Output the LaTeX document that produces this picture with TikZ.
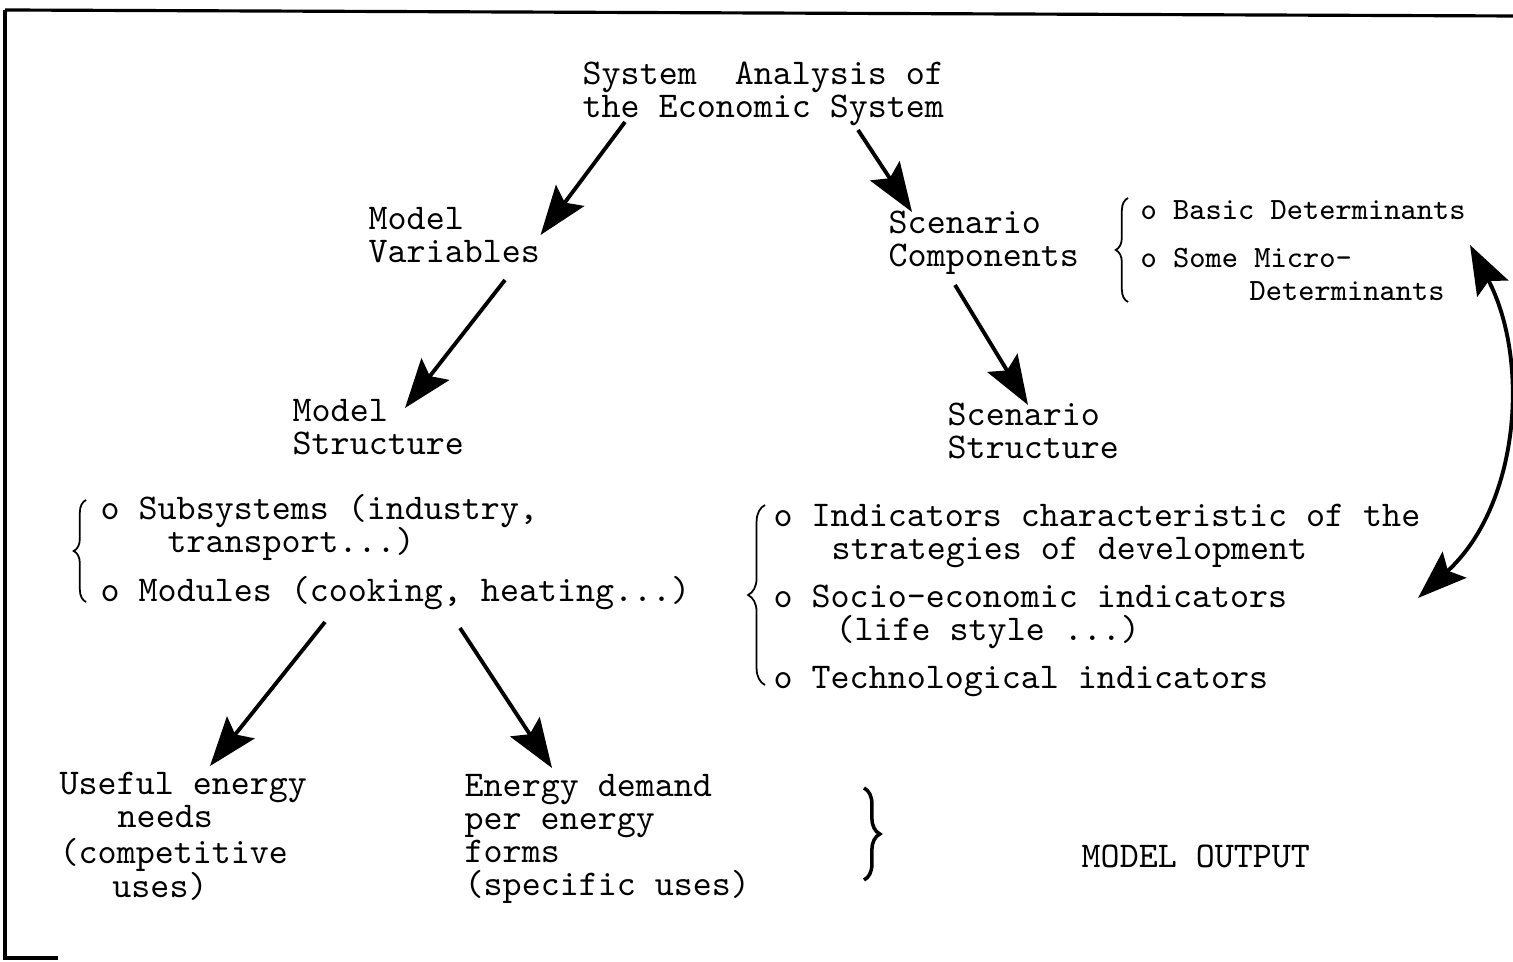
\documentclass[tikz,border=0pt]{standalone}
\usepackage{fontspec}
\usetikzlibrary{arrows.meta,decorations.pathreplacing,calc}
\newcommand\tightlines{\lineskiplimit-9pt\relax}

\begin{document}
\begin{tikzpicture}[x=0.01cm,y=-0.01cm,
    txt/.style={anchor=base west,inner sep=0pt,align=left,
        font=\ttfamily\fontsize{10.3pt}{9.4pt}\selectfont\tightlines},
    small/.style={txt,font=\ttfamily\fontsize{8.8pt}{9.4pt}\selectfont\tightlines},
    flow/.style={line width=1.1pt,-{Stealth[length=14pt,width=10pt,inset=2.5pt]}},
    curly/.style={decorate,decoration={brace,amplitude=#1},line width=0.5pt},
    frame/.style={line width=0.9pt}]
    \useasboundingbox (0,0) rectangle (1513,962);
    % frame
    \draw[frame] (5,10) -- (1513,16);
    \draw[frame] (5,10) -- (5,958) -- (58,958);
    % texts (placed by the baseline of their last line)
    \node[txt] (title) at (582,118) {System\ \ Analysis of\\the Economic System};
    \node[txt] (modvar) at (368,263) {Model\\Variables};
    \node[txt] (scencomp) at (888,267) {Scenario\\Components};
    \node[small] (detlist) at (1140,301)
        {o Basic Determinants\\[4.3pt]o Some Micro-\\\hspace{31pt}Determinants};
    \node[txt] (modstruct) at (292,455) {Model\\Structure};
    \node[txt] (scenstruct) at (947,459) {Scenario\\Structure};
    \node[txt] (sublist) at (100,602)
        {o Subsystems (industry,\\\hspace{19pt}transport...)\\[4.6pt]%
         o Modules (cooking, heating...)};
    \node[txt] (indlist) at (773,689)
        {o Indicators characteristic of the\\\hspace{16.5pt}strategies of development\\[4.3pt]%
         o Socio-economic indicators\\\hspace{17.6pt}(life style ...)\\[4.3pt]%
         o Technological indicators};
    \node[txt] (useful) at (59,897)
        {Useful energy\\\hspace{16.5pt}needs\\[1pt](competitive\\\hspace{15pt}uses)};
    \node[txt] (demand) at (464,896) {Energy demand\\per energy\\forms\\(specific uses)};
    \node[txt] (output) at (1081,867) {MODEL OUTPUT};
    % braces
    \draw[curly=3.5pt] ($(detlist.base west)+(-12,1)$) -- ($(detlist.base west)+(-12,-103)$);
    \draw[curly=3.5pt] ($(sublist.base west)+(-14,0)$) -- ($(sublist.base west)+(-14,-102)$);
    \draw[curly=4.8pt] ($(indlist.base west)+(-8,-4)$) -- ($(indlist.base west)+(-8,-184)$);
    \draw[curly=4.5pt,line width=1pt] ($(demand.base west)+(400,-108)$) -- ($(demand.base west)+(400,-16)$);
    % arrows
    \draw[flow] ($(title.base west)+(43,4)$) -- ($(modvar.base east)+(0,-28)$);
    \draw[flow] ($(title.base west)+(276,12)$) -- ($(scencomp.base west)+(24,-55)$);
    \draw[flow] ($(modvar.base west)+(137,17)$) -- ($(modstruct.base west)+(113,-47)$);
    \draw[flow] ($(scencomp.base west)+(67,18)$) -- ($(scenstruct.base west)+(81,-54)$);
    \draw[flow] ($(sublist.base west)+(225,20)$) -- ($(useful.base west)+(151,-131)$);
    \draw[flow] ($(sublist.base west)+(360,26)$) -- ($(demand.base west)+(88,-128)$);
    \draw[flow,{Stealth[length=14pt,width=10pt,inset=2.5pt]}-{Stealth[length=14pt,width=10pt,inset=2.5pt]}]
        ($(indlist.base west)+(645,-91)$) .. controls +(102,-93) and +(60,115) ..
        ($(detlist.base west)+(330,-56)$);
\end{tikzpicture}
\end{document}
